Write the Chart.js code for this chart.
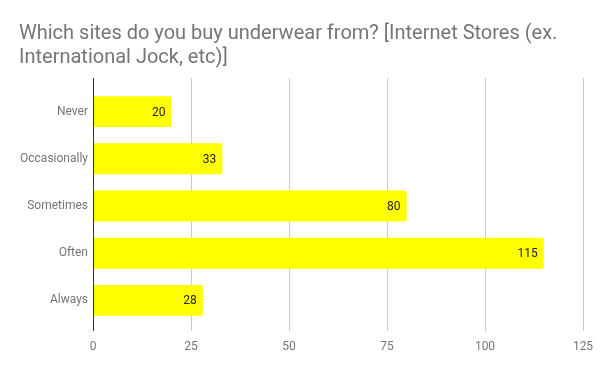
<!DOCTYPE html>
<html>
<head>
<meta charset="utf-8">
<script src="https://cdn.jsdelivr.net/npm/chart.js@4"></script>
<style>
html,body{margin:0;padding:0;background:#fff;}
#wrap{width:600px;height:371px;}
</style>
</head>
<body>
<div id="wrap"><canvas id="c" width="600" height="371"></canvas></div>
<script>
const titleLines = ['Which sites do you buy underwear from? [Internet Stores (ex.', 'International Jock, etc)]'];
const categories = ['Never', 'Occasionally', 'Sometimes', 'Often', 'Always'];
const values = [20, 33, 80, 115, 28];
const xTicks = [0, 25, 50, 75, 100, 125];

Chart.defaults.font.family = 'Roboto';

const gridPlugin = {
  id: 'gridPlugin',
  beforeDatasetsDraw(chart) {
    const {ctx, chartArea, scales} = chart;
    ctx.save();
    ctx.strokeStyle = '#cccccc';
    ctx.lineWidth = 1;
    xTicks.forEach(v => {
      if (v === 0) return;
      const x = Math.round(scales.x.getPixelForValue(v)) + 0.5;
      ctx.beginPath();
      ctx.moveTo(x, chartArea.top - 10);
      ctx.lineTo(x, chartArea.bottom + 7);
      ctx.stroke();
    });
    ctx.restore();
  },
  afterDatasetsDraw(chart) {
    const {ctx, chartArea, scales} = chart;
    ctx.save();
    ctx.strokeStyle = '#333333';
    ctx.lineWidth = 1;
    const x = Math.round(scales.x.getPixelForValue(0)) + 0.5;
    ctx.beginPath();
    ctx.moveTo(x, chartArea.top - 10);
    ctx.lineTo(x, chartArea.bottom + 7);
    ctx.stroke();
    const meta = chart.getDatasetMeta(0);
    ctx.fillStyle = '#222222';
    ctx.font = '12px Roboto';
    ctx.textAlign = 'right';
    ctx.textBaseline = 'middle';
    meta.data.forEach((bar, i) => {
      ctx.fillText(String(values[i]), bar.x - 6, bar.y + 1);
    });
    ctx.restore();
  }
};

new Chart(document.getElementById('c'), {
  type: 'bar',
  data: {
    labels: categories,
    datasets: [{
      data: values,
      backgroundColor: '#ffff00',
      borderWidth: 0,
      borderRadius: 2,
      borderSkipped: 'start',
      categoryPercentage: 0.655,
      barPercentage: 1
    }]
  },
  options: {
    indexAxis: 'y',
    responsive: false,
    animation: false,
    devicePixelRatio: 1,
    layout: {padding: {left: 0, right: 17, top: 0, bottom: 0}},
    plugins: {
      legend: {display: false},
      tooltip: {enabled: false},
      title: {
        display: true,
        text: titleLines,
        align: 'start',
        color: '#757575',
        font: {family: 'Roboto', size: 20, weight: 'normal', lineHeight: 1.2},
        padding: {top: 22, bottom: 18}
      }
    },
    scales: {
      x: {
        type: 'linear',
        min: 0,
        max: 125,
        afterBuildTicks(scale) { scale.ticks = xTicks.map(v => ({value: v})); },
        afterFit(scale) { scale.height = 47; scale.paddingLeft = 0; scale.paddingRight = 0; },
        grid: {display: false, drawTicks: false},
        border: {display: false},
        ticks: {color: '#757575', font: {size: 12}, padding: 16}
      },
      y: {
        afterFit(scale) { scale.width = 93; scale.paddingTop = 0; scale.paddingBottom = 0; },
        grid: {display: false, drawTicks: false},
        border: {display: false},
        ticks: {color: '#757575', font: {size: 12}, padding: 5}
      }
    }
  },
  plugins: [gridPlugin, {
    id: 'titleShift',
    beforeDraw(chart) {
      const t = chart.titleBlock;
      if (t && !t._shifted) { t.left += 19; t._shifted = true; }
    }
  }]
});
</script>
</body>
</html>
